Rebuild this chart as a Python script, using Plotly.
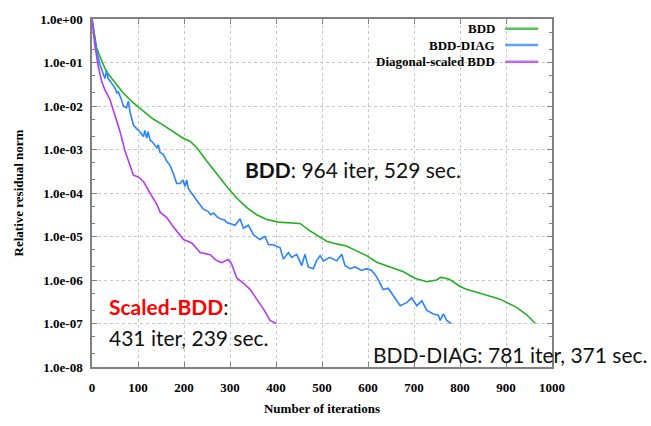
import numpy as np
import plotly.graph_objects as go

# Convergence history: iteration number and log10 of the relative residual norm
bdd_iter = [0, 10, 21, 32, 46, 68, 90, 112, 133, 155,
            177, 198, 213, 228, 249, 271, 293, 314, 336, 358,
            380, 405, 431, 452, 474, 488, 510, 532, 553, 575,
            597, 619, 648, 677, 702, 728, 749, 758, 764, 778,
            800, 815, 851, 887, 923, 945, 964]
bdd_log10 = [0, -0.67, -0.96, -1.22, -1.41, -1.70, -1.93, -2.11, -2.30, -2.44,
             -2.59, -2.74, -2.81, -2.96, -3.26, -3.56, -3.85, -4.11, -4.33, -4.50,
             -4.61, -4.67, -4.68, -4.70, -4.87, -4.96, -5.11, -5.17, -5.22, -5.33,
             -5.44, -5.59, -5.70, -5.81, -5.96, -6.04, -6.00, -5.94, -5.95, -5.99,
             -6.15, -6.22, -6.33, -6.44, -6.63, -6.80, -7.00]

diag_iter = [0, 10, 17, 25, 28, 32, 35, 43, 50, 54,
             57, 64, 68, 75, 79, 83, 90, 97, 104, 112,
             115, 119, 122, 126, 133, 141, 144, 148, 155, 162,
             170, 177, 184, 191, 198, 202, 206, 209, 220, 231,
             242, 252, 258, 264, 272, 280, 288, 293, 300, 311,
             322, 329, 340, 351, 365, 376, 384, 394, 409, 416,
             427, 434, 445, 456, 463, 470, 481, 488, 496, 503,
             517, 532, 543, 550, 561, 572, 586, 597, 608, 619,
             626, 633, 644, 655, 670, 684, 695, 706, 717, 728,
             742, 753, 757, 764, 771, 781]
diag_log10 = [0, -0.74, -1.04, -1.30, -1.37, -1.19, -1.37, -1.48, -1.59, -1.70,
              -1.67, -1.85, -2.00, -2.04, -1.89, -2.15, -2.44, -2.52, -2.59, -2.70,
              -2.56, -2.74, -2.59, -2.78, -2.85, -2.96, -2.89, -3.07, -3.11, -3.26,
              -3.37, -3.56, -3.78, -3.78, -3.70, -3.85, -3.70, -3.89, -4.07, -4.22,
              -4.37, -4.42, -4.50, -4.46, -4.55, -4.60, -4.62, -4.68, -4.70, -4.74,
              -4.59, -4.81, -4.74, -4.96, -5.07, -5.00, -5.19, -5.19, -5.26, -5.52,
              -5.37, -5.48, -5.41, -5.67, -5.41, -5.70, -5.74, -5.56, -5.44, -5.56,
              -5.48, -5.56, -5.41, -5.67, -5.74, -5.70, -5.78, -5.74, -5.78, -5.93,
              -6.07, -6.22, -6.19, -6.37, -6.59, -6.52, -6.41, -6.59, -6.48, -6.70,
              -6.78, -6.81, -6.93, -6.78, -6.93, -7.00]

scaled_iter = [0, 6, 14, 21, 28, 39, 50, 61, 72, 83,
               90, 101, 112, 126, 141, 148, 162, 177, 199, 217,
               235, 257, 270, 282, 290, 296, 303, 315, 329, 344,
               358, 373, 387, 401]
scaled_log10 = [0, -0.59, -1.11, -1.44, -1.63, -1.85, -2.22, -2.59, -3.04, -3.41,
                -3.59, -3.63, -3.74, -4.00, -4.26, -4.44, -4.56, -4.78, -5.07, -5.15,
                -5.37, -5.42, -5.55, -5.60, -5.55, -5.53, -5.62, -5.96, -6.07, -6.22,
                -6.44, -6.67, -6.93, -7.00]

series_names = ["BDD", "BDD-DIAG", "Diagonal-scaled BDD"]
series_colors = ["#22b022", "#2a84ff", "#b43cf0"]

y_tick_vals = [1e0, 1e-1, 1e-2, 1e-3, 1e-4, 1e-5, 1e-6, 1e-7, 1e-8]
y_tick_text = ["1.0e+00", "1.0e-01", "1.0e-02", "1.0e-03", "1.0e-04",
               "1.0e-05", "1.0e-06", "1.0e-07", "1.0e-08"]

series = [(bdd_iter, bdd_log10), (diag_iter, diag_log10), (scaled_iter, scaled_log10)]

fig = go.Figure()
for (its, lg), name, color in zip(series, series_names, series_colors):
    fig.add_trace(go.Scatter(
        x=its, y=10.0 ** np.array(lg), mode="lines", name=name,
        line=dict(color=color, width=1.6), showlegend=False,
    ))

serif_bold = dict(family="Liberation Serif", size=13, color="black", weight="bold")
axis_gray = "#808080"
grid_gray = "#c8c8c8"

fig.update_xaxes(
    range=[0, 1000], tick0=0, dtick=100,
    showgrid=True, gridcolor=grid_gray, griddash="dot", gridwidth=1,
    showline=True, linecolor=axis_gray, linewidth=1.5, mirror="ticks",
    ticks="inside", ticklen=5, tickcolor=axis_gray, tickwidth=1,
    tickfont=serif_bold, ticklabelstandoff=8, zeroline=False,
    title=dict(text="Number of iterations", font=serif_bold, standoff=10),
)
fig.update_yaxes(
    type="log", range=[-8, 0],
    tickvals=y_tick_vals, ticktext=y_tick_text,
    showgrid=True, gridcolor=grid_gray, griddash="dot", gridwidth=1,
    showline=True, linecolor=axis_gray, linewidth=1.5, mirror="ticks",
    ticks="inside", ticklen=5, tickcolor=axis_gray, tickwidth=1,
    minor=dict(ticks="inside", ticklen=3, dtick="D2", tickcolor=axis_gray, showgrid=False),
    tickfont=serif_bold, ticklabelstandoff=5, zeroline=False,
    title=dict(text="Relative residual norm", font=serif_bold, standoff=14),
)

# white panel behind the key
fig.add_shape(type="rect", xref="paper", yref="paper", x0=0.587, x1=1.0, y0=0.852, y1=1.0,
              fillcolor="white", line=dict(width=0), layer="between")

# key: label on the left, line sample on the right
key_y = [0.972, 0.925, 0.877]
for name, color, ky in zip(series_names, series_colors, key_y):
    fig.add_annotation(xref="paper", yref="paper", x=0.880, y=ky, text=name,
                       showarrow=False, xanchor="right", yanchor="middle", font=serif_bold)
    fig.add_shape(type="line", xref="paper", yref="paper", x0=0.898, x1=0.970, y0=ky, y1=ky,
                  line=dict(color=color, width=2.5), opacity=0.75)

note_font = dict(family="Lato", size=21, color="#111111")
fig.add_annotation(xref="paper", yref="paper", x=0.328, y=0.568, xanchor="left", yanchor="middle",
                   showarrow=False, font=note_font,
                   text="<b>BDD</b>: 964 iter, 529 sec.")
fig.add_annotation(xref="paper", yref="paper", x=0.0326, y=0.173, xanchor="left", yanchor="middle",
                   showarrow=False, font=note_font,
                   text="<b><span style='color:#ff0000'>Scaled-BDD</span></b>:")
fig.add_annotation(xref="paper", yref="paper", x=0.0326, y=0.0836, xanchor="left", yanchor="middle",
                   showarrow=False, font=note_font,
                   text="431 iter, 239 sec.")
fig.add_annotation(xref="paper", yref="paper", x=1.212, y=0.036, xanchor="right", yanchor="middle",
                   showarrow=False, font=note_font,
                   text="BDD-DIAG: 781 iter, 371 sec.")

fig.update_layout(
    width=651, height=426,
    margin=dict(l=92, r=99, t=15, b=52),
    paper_bgcolor="white", plot_bgcolor="white",
)

fig.write_html("out.html")
